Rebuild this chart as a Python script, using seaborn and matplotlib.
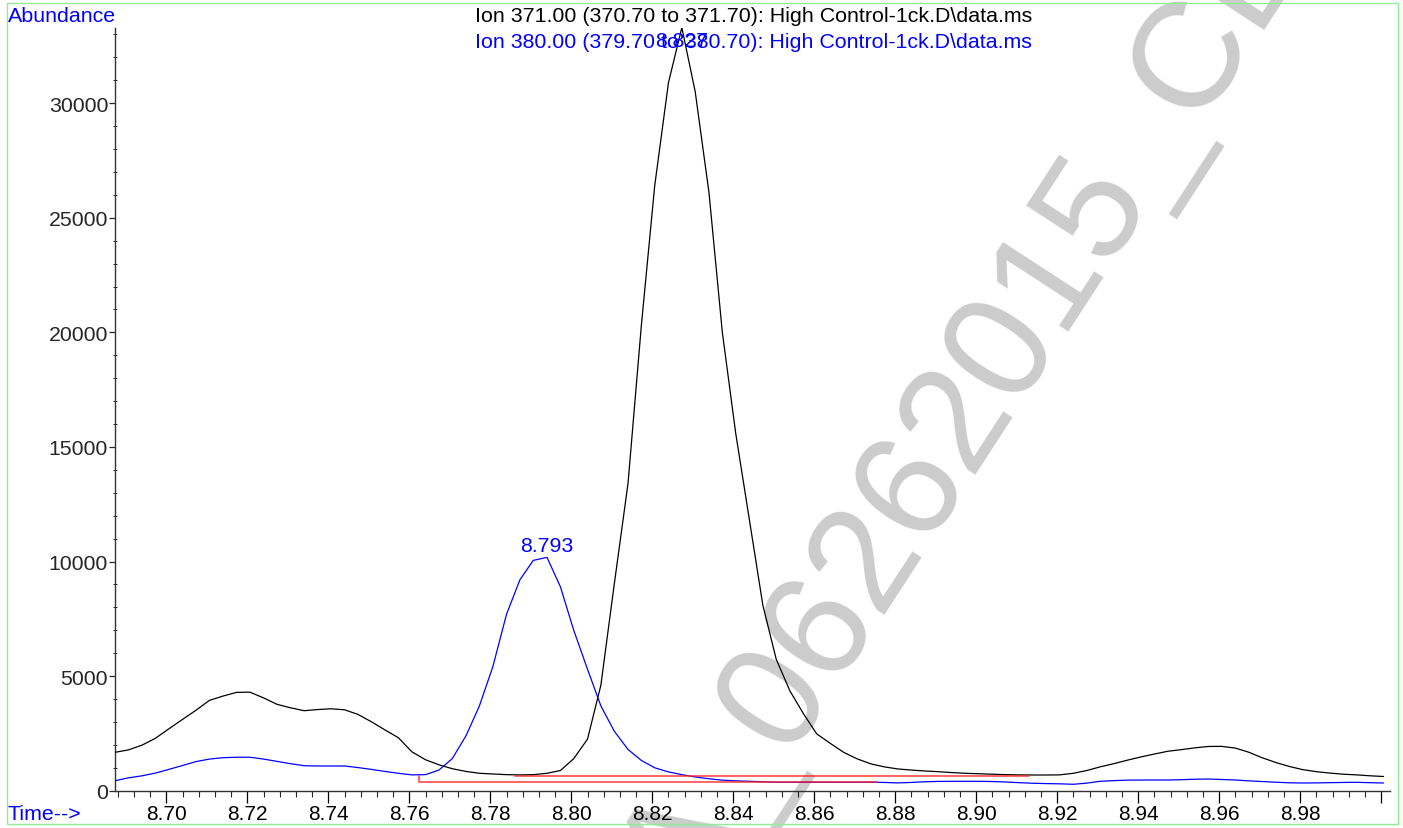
import numpy as np
import matplotlib
matplotlib.use("Agg")
import matplotlib.pyplot as plt
from matplotlib.ticker import MultipleLocator, FixedLocator
from matplotlib.patches import Rectangle
import seaborn as sns

# retention time (min)
time = [8.6873, 8.6906, 8.6940, 8.6973, 8.7006, 8.7040, 8.7073, 8.7106, 8.7140, 8.7173,
        8.7206, 8.7240, 8.7273, 8.7306, 8.7340, 8.7373, 8.7406, 8.7440, 8.7473, 8.7506,
        8.7540, 8.7573, 8.7606, 8.7640, 8.7673, 8.7706, 8.7740, 8.7773, 8.7806, 8.7840,
        8.7873, 8.7906, 8.7940, 8.7973, 8.8006, 8.8040, 8.8073, 8.8106, 8.8140, 8.8173,
        8.8206, 8.8240, 8.8273, 8.8306, 8.8340, 8.8373, 8.8406, 8.8440, 8.8473, 8.8506,
        8.8540, 8.8573, 8.8606, 8.8640, 8.8673, 8.8706, 8.8740, 8.8773, 8.8806, 8.8840,
        8.8873, 8.8906, 8.8940, 8.8973, 8.9006, 8.9040, 8.9073, 8.9106, 8.9140, 8.9173,
        8.9206, 8.9240, 8.9273, 8.9306, 8.9340, 8.9373, 8.9406, 8.9440, 8.9473, 8.9506,
        8.9540, 8.9573, 8.9606, 8.9640, 8.9673, 8.9706, 8.9740, 8.9773, 8.9806, 8.9840,
        8.9873, 8.9906, 8.9940, 8.9973, 9.0006]

# ion 371 abundance (black)
ion371 = [1675, 1780, 1990, 2290, 2700, 3114, 3510, 3940, 4130, 4290,
          4300, 4050, 3770, 3620, 3490, 3540, 3575, 3530, 3330, 3010,
          2650, 2310, 1700, 1350, 1130, 960, 840, 760, 730, 700,
          690, 700, 760, 880, 1400, 2250, 4600, 9000, 13400, 20300,
          26400, 30900, 33300, 30500, 26100, 20000, 15600, 11800, 8100, 5740,
          4350, 3370, 2480, 2060, 1670, 1390, 1170, 1040, 950, 900,
          860, 830, 790, 760, 740, 720, 700, 690, 685, 685,
          690, 760, 880, 1040, 1180, 1330, 1470, 1600, 1720, 1790,
          1870, 1930, 1935, 1860, 1680, 1440, 1230, 1060, 920, 830,
          770, 720, 690, 650, 620]

# ion 380 abundance (blue)
ion380 = [436, 560, 650, 770, 930, 1100, 1270, 1380, 1440, 1460,
          1460, 1380, 1280, 1180, 1090, 1078, 1078, 1078, 1010, 930,
          840, 760, 690, 700, 900, 1400, 2400, 3700, 5400, 7700,
          9200, 10050, 10180, 8900, 7000, 5300, 3700, 2600, 1800, 1320,
          1000, 820, 700, 600, 520, 460, 430, 410, 390, 370,
          370, 370, 370, 370, 365, 370, 375, 360, 340, 360,
          390, 405, 410, 410, 410, 400, 380, 350, 325, 310,
          300, 280, 330, 410, 440, 460, 465, 467, 467, 480,
          500, 510, 490, 467, 430, 400, 370, 345, 336, 340,
          350, 360, 366, 350, 336]

# integration baselines (red)
base371_t = [8.7862, 8.9130]
base371_v = [660, 660]
base380_t = [8.7623, 8.7623, 8.8754]
base380_v = [654, 366, 366]

peak371 = ("8.827", 8.8273, 33300)
peak380 = ("8.793", 8.7940, 10180)

title371 = "Ion 371.00 (370.70 to 371.70): High Control-1ck.D\\data.ms"
title380 = "Ion 380.00 (379.70 to 380.70): High Control-1ck.D\\data.ms"

sns.set_style("ticks")
plt.rcParams['font.family'] = ['Liberation Sans', 'DejaVu Sans']

W, H = 1403, 829
fig = plt.figure(figsize=(W / 100, H / 100), dpi=100)
ax = fig.add_axes([115 / W, 1 - 791.7 / H, (1390 - 115) / W, (791.7 - 29) / H])

# watermark behind the traces
ax.text(965 / W, 1 - 420 / H, "A_06262015_CL", transform=fig.transFigure,
        rotation=57, color='#cccccc', fontsize=108, ha='center', va='center',
        rotation_mode='anchor', zorder=0.5, clip_on=False)

sns.lineplot(x=time, y=ion371, color='black', lw=0.9, ax=ax, zorder=3)
sns.lineplot(x=time, y=ion380, color='blue', lw=0.9, ax=ax, zorder=3)
sns.lineplot(x=base371_t, y=base371_v, color='#ff2020', alpha=0.75, lw=1.3,
             estimator=None, sort=False, ax=ax, zorder=4)
sns.lineplot(x=base380_t, y=base380_v, color='#ff2020', alpha=0.75, lw=1.3,
             estimator=None, sort=False, ax=ax, zorder=4)

ax.set_xlim(8.6873, 9.0022)
ax.set_ylim(0, 33280)
ax.set_xlabel("")
ax.set_ylabel("")

xt = [8.70, 8.72, 8.74, 8.76, 8.78, 8.80, 8.82, 8.84, 8.86, 8.88, 8.90, 8.92, 8.94, 8.96, 8.98, 9.00]
ax.xaxis.set_major_locator(FixedLocator(xt))
ax.set_xticklabels([f"{v:.2f}" for v in xt[:-1]] + [""])
ax.xaxis.set_minor_locator(MultipleLocator(0.004))
ax.yaxis.set_major_locator(MultipleLocator(5000))
ax.yaxis.set_minor_locator(MultipleLocator(1000))

ax.tick_params(axis='x', which='major', length=8.5, width=0.9, direction='out',
               labelsize=15, pad=1, colors='black')
ax.tick_params(axis='x', which='minor', length=4, width=0.8, direction='out')
ax.tick_params(axis='y', which='major', length=4, width=0.9, direction='out',
               labelsize=15.3, pad=1)
ax.tick_params(axis='y', which='minor', length=2.5, width=0.7, direction='inout')

sns.despine(ax=ax)
for s in ['left', 'bottom']:
    ax.spines[s].set_color('#333333')
    ax.spines[s].set_linewidth(1.0)

# peak labels
ax.annotate(peak380[0], xy=(peak380[1], peak380[2]), xytext=(0, 2),
            textcoords='offset points', ha='center', va='bottom',
            color='blue', fontsize=15.3, zorder=5)
ax.annotate(peak371[0], xy=(peak371[1], peak371[2]), xytext=(0, -9),
            textcoords='offset points', ha='center', va='center',
            color='blue', fontsize=15.3, zorder=5)

# header texts
fig.text(475 / W, 1 - 17 / H, title371, color='black', fontsize=15.4, ha='left', va='center')
fig.text(475 / W, 1 - 42 / H, title380, color='blue', fontsize=15.4, ha='left', va='center')
fig.text(8 / W, 1 - 17 / H, "Abundance", color='blue', fontsize=15.4, ha='left', va='center')
fig.text(8 / W, 1 - 815 / H, "Time-->", color='blue', fontsize=15.4, ha='left', va='center')

# light green frame around the whole chart
fig.patches.append(Rectangle((7 / W, 1 - 825 / H), (1398 - 7) / W, (825 - 4) / H,
                             transform=fig.transFigure, fill=False,
                             edgecolor='#90ee90', lw=1.0))

fig.savefig("out.png", dpi=100)
